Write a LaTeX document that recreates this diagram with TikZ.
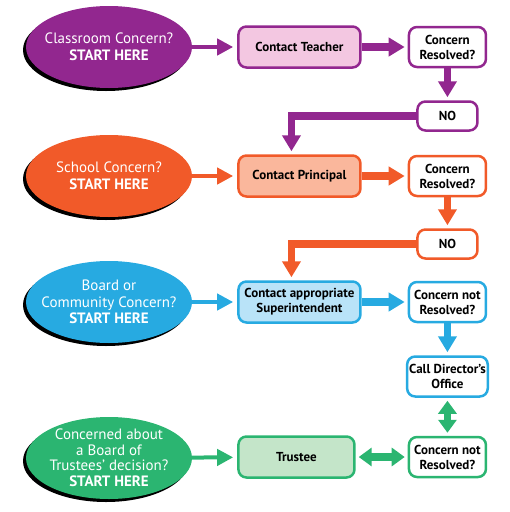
\documentclass[tikz,border=0pt]{standalone}
\usepackage{fontspec}
\setmainfont{PT Sans}
\usetikzlibrary{positioning, shapes.geometric, arrows.meta, shadows}

\definecolor{plum}{HTML}{92278F}
\definecolor{plumlight}{HTML}{F3C7E1}
\definecolor{flame}{HTML}{F15A29}
\definecolor{flamelight}{HTML}{FAB79C}
\definecolor{sky}{HTML}{27AAE1}
\definecolor{skylight}{HTML}{B9E3F8}
\definecolor{leaf}{HTML}{2BB571}
\definecolor{leaflight}{HTML}{C4E5C9}

\begin{document}
\begin{tikzpicture}[x=1pt, y=-1pt, node distance=45pt,
    start/.style={ellipse, fill=#1, text=white, align=center,
        inner xsep=-10pt, inner ysep=0pt,
        minimum width=166pt, minimum height=82pt,
        font=\fontsize{15}{16.5}\selectfont,
        copy shadow={shadow xshift=-3pt, shadow yshift=-3pt, fill=black, draw=none}},
    contact/.style={rectangle, rounded corners=8pt, line width=2.5pt, draw=#1,
        align=center, inner sep=2pt, minimum width=122pt, minimum height=41pt,
        font=\bfseries\fontsize{13}{15}\selectfont},
    check/.style={contact=#1, fill=white, minimum width=77pt, minimum height=40pt},
    answer/.style={contact=#1, fill=white, minimum width=60pt, minimum height=29pt},
    thin arrow/.style={draw=#1, line width=4pt, shorten >=4pt,
        -{Triangle[width=16pt,length=16pt]}},
    fat arrow/.style={draw=#1, line width=7.5pt, shorten >=3pt,
        -{Triangle[width=18pt,length=16pt]}},
    both arrow/.style={draw=#1, line width=7.5pt, shorten >=3pt, shorten <=3pt,
        {Triangle[width=18pt,length=13pt]}-{Triangle[width=18pt,length=13pt]}},
]
\useasboundingbox (0,0) rectangle (510,512);

% where to start
\node (classroom) [start=plum] at (109,47) {Classroom Concern?\\\textbf{START HERE}};
\node (school) [start=flame] at (109,176) {School Concern?\\\textbf{START HERE}};
\node (board) [start=sky] at (109,302) {Board or\\Community Concern?\\\textbf{START HERE}};
\node (trustees) [start=leaf, inner ysep=-5pt, font=\fontsize{15}{15.5}\selectfont] at (109,458)
    {Concerned about\\a Board of\\Trustees' decision?\\\textbf{START HERE}};

% who to contact
\node (teacher) [contact=plum, fill=plumlight, right=of classroom] {Contact Teacher};
\node (principal) [contact=flame, fill=flamelight, right=of school] {Contact Principal};
\node (super) [contact=sky, fill=skylight, right=of board] {Contact appropriate\\Superintendent};

\node (res1) [check=plum, right=46pt of teacher] {Concern\\Resolved?};
\node (no1) [answer=plum, below=32pt of res1] {NO};
\node (res2) [check=flame, right=46pt of principal] {Concern\\Resolved?};
\node (no2) [answer=flame, below=31pt of res2] {NO};
\node (notres1) [check=sky, right=46pt of super] {Concern not\\Resolved?};
\node (director) [check=sky, below=32pt of notres1] {Call Director's\\Office};
\node (notres2) [check=leaf, below=38pt of director] {Concern not\\Resolved?};
\node (trustee) [contact=leaf, fill=leaflight, minimum width=116pt, left=52pt of notres2] {Trustee};

\draw[thin arrow=plum] (classroom) -- (teacher);
\draw[thin arrow=flame] (school.east) -- (school.east -| principal.west);
\draw[thin arrow=sky] (board) -- (super);
\draw[thin arrow=leaf] (trustees) -- (trustee);

\draw[fat arrow=plum] (teacher) -- (res1);
\draw[fat arrow=plum] (res1) -- (no1);
\draw[fat arrow=plum] (no1.west) -| ([xshift=-8pt]principal.north);
\draw[fat arrow=flame] (principal) -- (res2);
\draw[fat arrow=flame] (res2) -- (no2);
\draw[fat arrow=flame] (no2.west) -| ([xshift=-8pt]super.north);
\draw[fat arrow=sky] (super) -- (notres1);
\draw[fat arrow=sky] (notres1) -- (director);
\draw[both arrow=leaf] (director) -- (notres2);
\draw[both arrow=leaf] (trustee) -- (notres2);
\end{tikzpicture}
\end{document}
